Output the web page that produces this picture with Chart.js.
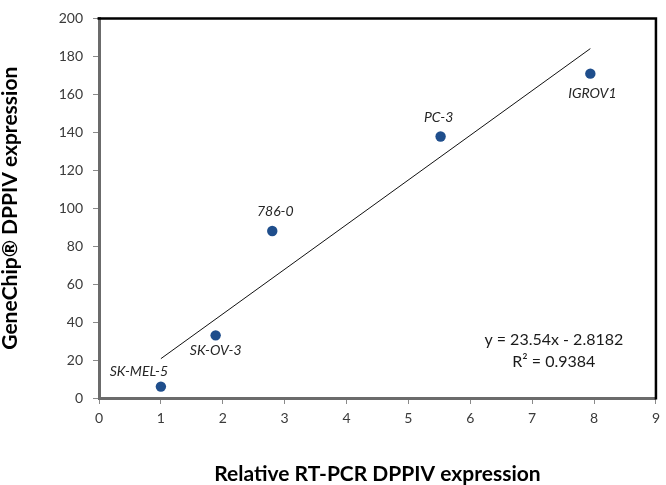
<!DOCTYPE html>
<html><head><meta charset="utf-8">
<script src="https://cdn.jsdelivr.net/npm/chart.js@4.4.1/dist/chart.umd.min.js"></script>
<style>html,body{margin:0;padding:0;background:#fff}</style>
</head><body>
<canvas id="c" width="666" height="485"></canvas>
<script>
// ---- data ----
const cellLines = ['SK-MEL-5', 'SK-OV-3', '786-0', 'PC-3', 'IGROV1'];
const rtPcr = [1.0, 1.885, 2.80, 5.52, 7.94];
const geneChip = [6, 33, 88, 137.8, 170.9];
const trendSlope = 23.54;
const trendIntercept = -2.8182;
const rSquared = 0.9384;
const xTicks = [0, 1, 2, 3, 4, 5, 6, 7, 8, 9];
const yTicks = [0, 20, 40, 60, 80, 100, 120, 140, 160, 180, 200];
const xTitle = 'Relative RT-PCR DPPIV expression';
const yTitle = 'GeneChip\u00AE DPPIV expression';

// ---- derived ----
const points = rtPcr.map((x, i) => ({x: x, y: geneChip[i]}));
const xMin = Math.min(...rtPcr), xMax = Math.max(...rtPcr);
const trend = [xMin, xMax].map(x => ({x: x, y: trendSlope * x + trendIntercept}));
const eqLines = ['y = ' + trendSlope + 'x - ' + Math.abs(trendIntercept), 'R\u00B2 = ' + rSquared];

// ---- styles (label placement in pixels relative to each point) ----
const labelOffsets = {
  'SK-MEL-5': [-22, -15], 'SK-OV-3': [0, 15], '786-0': [3, -19], 'PC-3': [-2, -19], 'IGROV1': [2, 20]
};
const FONT = 'Lato, "Open Sans", sans-serif';

const annot = {
  id: 'annot',
  beforeDraw(chart) {
    const ctx = chart.ctx;
    ctx.save();
    ctx.fillStyle = '#fff';
    ctx.fillRect(0, 0, chart.width, chart.height);
    ctx.restore();
  },
  afterDraw(chart) {
    const ctx = chart.ctx, a = chart.chartArea;
    const xs = chart.scales.x, ys = chart.scales.y;
    ctx.save();
    // top & right frame
    ctx.strokeStyle = '#000';
    ctx.lineWidth = 2.5;
    ctx.beginPath();
    ctx.moveTo(a.left - 1.5, a.top);
    ctx.lineTo(a.right, a.top);
    ctx.lineTo(a.right, a.bottom + 1.5);
    ctx.stroke();
    // point labels
    ctx.font = 'italic 14px ' + FONT;
    ctx.fillStyle = '#262626';
    ctx.textAlign = 'center';
    ctx.textBaseline = 'middle';
    cellLines.forEach((name, i) => {
      const off = labelOffsets[name];
      ctx.fillText(name, xs.getPixelForValue(rtPcr[i]) + off[0], ys.getPixelForValue(geneChip[i]) + off[1]);
    });
    // equation
    ctx.font = '16px ' + FONT;
    ctx.fillStyle = '#1a1a1a';
    const ex = xs.getPixelForValue(7.35);
    ctx.fillText(eqLines[0], ex, ys.getPixelForValue(30.6));
    ctx.fillText(eqLines[1], ex, ys.getPixelForValue(18.9));
    ctx.restore();
  }
};

new Chart(document.getElementById('c'), {
  type: 'scatter',
  data: {
    datasets: [
      {
        label: 'data', data: points,
        backgroundColor: '#1F4E8C', borderColor: '#1F4E8C',
        pointRadius: 5.2, pointHoverRadius: 5.2, pointBorderWidth: 0
      },
      {
        label: 'trend', data: trend, type: 'line', showLine: true,
        borderColor: '#111', borderWidth: 1, pointRadius: 0, fill: false
      }
    ]
  },
  options: {
    responsive: false, animation: false,
    layout: {padding: {left: 0, right: 5, top: 5, bottom: 0}},
    plugins: {legend: {display: false}, tooltip: {enabled: false}},
    scales: {
      x: {
        type: 'linear', min: 0, max: 9,
        afterBuildTicks(s) { s.ticks = xTicks.map(v => ({value: v})); },
        afterFit(s) { s.height = 87; },
        grid: {drawOnChartArea: false, drawTicks: true, tickLength: 6, tickColor: '#8a8a8a', tickWidth: 1},
        border: {display: true, color: '#6b6b6b', width: 3},
        ticks: {font: {family: FONT, size: 14}, color: '#3a3a3a', padding: 6, maxRotation: 0, autoSkip: false},
        title: {display: true, text: xTitle, font: {family: FONT, size: 21, weight: 'bold', lineHeight: 1}, color: '#000', padding: {top: 0, bottom: 0}}
      },
      y: {
        type: 'linear', min: 0, max: 200,
        afterBuildTicks(s) { s.ticks = yTicks.map(v => ({value: v})); },
        afterFit(s) { s.width = 99; },
        grid: {drawOnChartArea: false, drawTicks: true, tickLength: 6, tickColor: '#8a8a8a', tickWidth: 1},
        border: {display: true, color: '#6b6b6b', width: 3},
        ticks: {font: {family: FONT, size: 14}, color: '#3a3a3a', padding: 10, autoSkip: false},
        title: {display: true, text: yTitle, font: {family: FONT, size: 21, weight: 'bold', lineHeight: 1}, color: '#000', padding: {top: 0, bottom: 0}}
      }
    }
  },
  plugins: [annot]
});
</script>
</body></html>
